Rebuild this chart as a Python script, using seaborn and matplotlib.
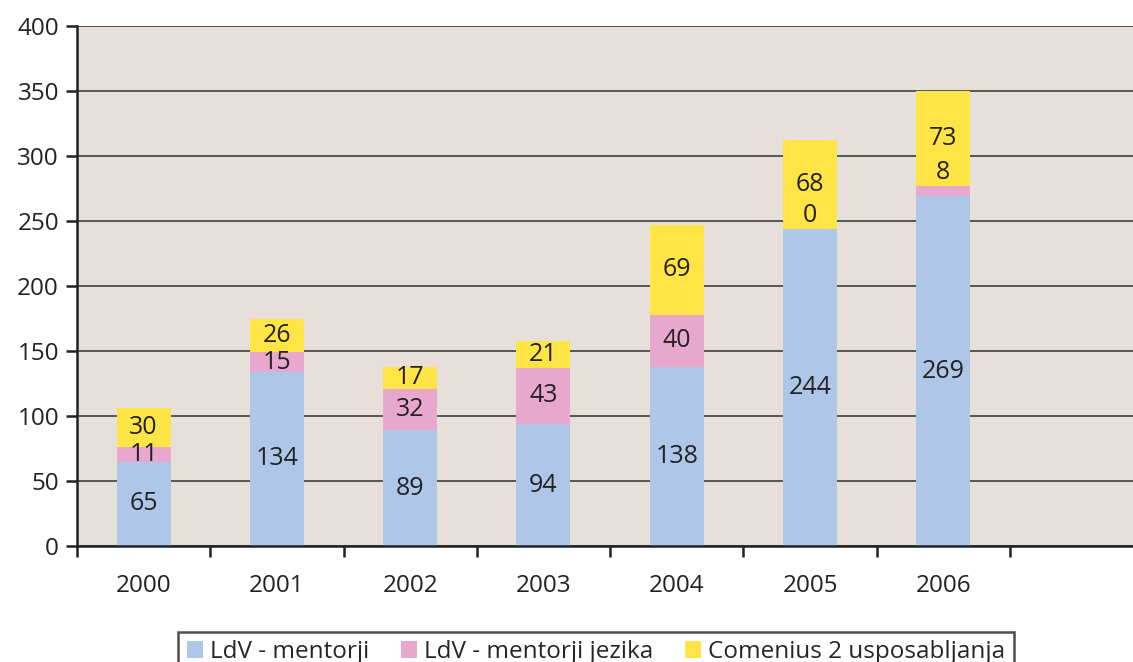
"""Stacked bar chart: LdV mentors and Comenius 2 trainings per year."""

import matplotlib.pyplot as plt
import numpy as np
import pandas as pd
import seaborn as sns

years = ["2000", "2001", "2002", "2003", "2004", "2005", "2006"]
ldv_mentorji = [65, 134, 89, 94, 138, 244, 269]
ldv_jezika = [11, 15, 32, 43, 40, 0, 8]
comenius = [30, 26, 17, 21, 69, 68, 73]

series_names = ["LdV - mentorji", "LdV - mentorji jezika", "Comenius 2 usposabljanja"]
colors = ["#AEC6E8", "#E8A8CE", "#FFE445"]

df = pd.DataFrame(
    {series_names[0]: ldv_mentorji, series_names[1]: ldv_jezika, series_names[2]: comenius},
    index=years,
)

sns.set_theme(style="white")
plt.rcParams["font.family"] = ["Open Sans", "DejaVu Sans"]
plt.rcParams["axes.linewidth"] = 1.8

fig = plt.figure(figsize=(11.33, 6.62), dpi=100)
ax = fig.add_axes([0.068, 0.175, 0.941, 0.786])
ax.set_facecolor("#E7E0DA")

x = np.arange(len(years))
bottom = np.zeros(len(years))
for name, color in zip(series_names, colors):
    vals = df[name].to_numpy(dtype=float)
    ax.bar(x, vals, bottom=bottom, width=0.405, color=color, label=name,
           linewidth=0, zorder=2)
    for xi, b, v in zip(x, bottom, vals):
        # small segments get their label pushed above, like the original
        y = b + v / 2 if v >= 10 else b + v + 10
        ax.text(xi, y, f"{int(v)}", ha="center", va="center",
                fontsize=18, color="#222222", zorder=3)
    bottom += vals

ax.set_xlim(-0.5, 7.5)
ax.set_ylim(0, 400)
ax.set_yticks(range(0, 401, 50))
ax.yaxis.grid(True, color="#4a4a4a", linewidth=1.3, zorder=1)
ax.set_axisbelow(True)

ax.set_xticks(np.arange(-0.5, 8.0, 1.0))
ax.set_xticklabels([])
ax.set_xticks(x, labels=years, minor=True)
ax.tick_params(axis="x", which="major", direction="out", length=8, width=1.8,
               color="#222222", bottom=True)
ax.tick_params(axis="x", which="minor", length=0, pad=20, labelsize=17.5,
               labelcolor="#222222")
ax.tick_params(axis="y", direction="out", length=8, width=1.8, color="#222222",
               labelsize=17.5, labelcolor="#222222", left=True, pad=5)

for side in ["top", "right"]:
    ax.spines[side].set_visible(False)
for side in ["left", "bottom"]:
    ax.spines[side].set_color("#222222")

leg = fig.legend(
    loc="lower center", bbox_to_anchor=(0.526, -0.027), ncol=3,
    fontsize=17.5, frameon=True, fancybox=False, edgecolor="#222222",
    handlelength=0.65, handleheight=0.65, handletextpad=0.3, columnspacing=1.3,
    borderpad=0.35, borderaxespad=0.3,
)
leg.get_frame().set_linewidth(1.8)

plt.savefig("out.png", dpi=100)
plt.close()
